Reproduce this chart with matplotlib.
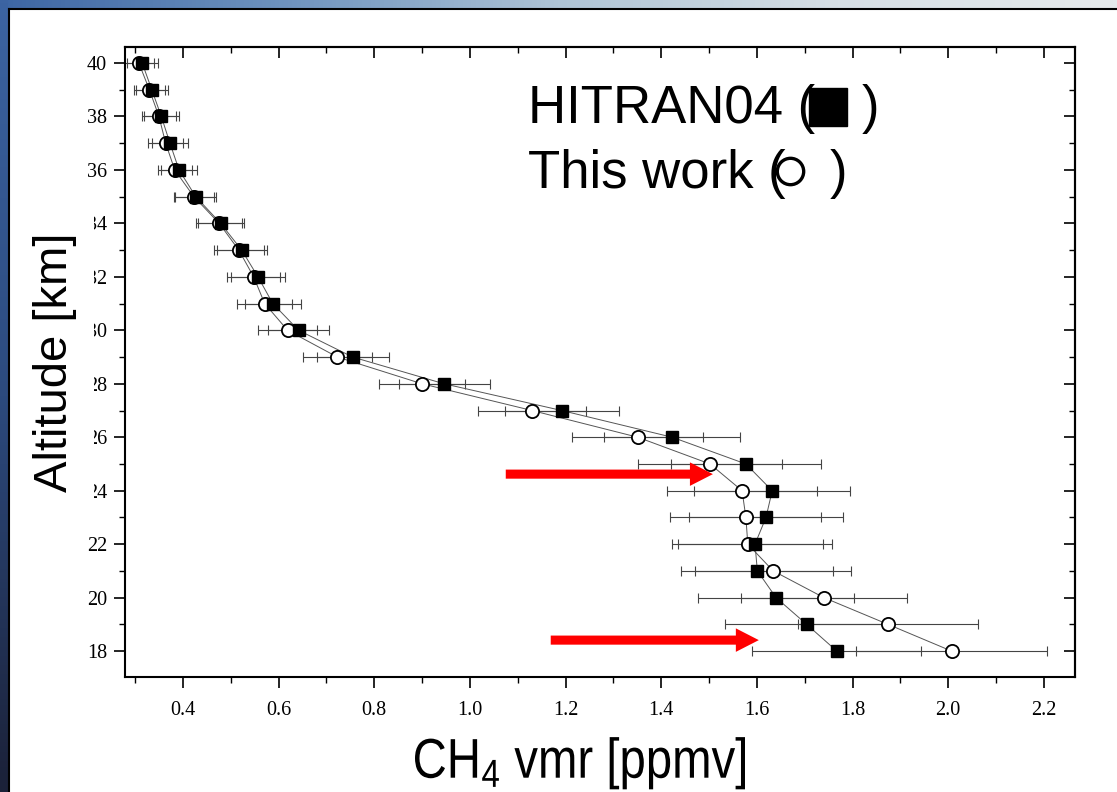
import numpy as np
import matplotlib
matplotlib.use("Agg")
import matplotlib.pyplot as plt
from matplotlib import font_manager
from matplotlib.colors import LinearSegmentedColormap
from matplotlib.lines import Line2D
from matplotlib.patches import FancyArrow, PathPatch
from matplotlib.textpath import TextPath
from matplotlib.transforms import Affine2D
from matplotlib.ticker import MultipleLocator, FormatStrFormatter

# CH4 profile, 40 km down to 18 km
altitude = list(range(40, 17, -1))
hitran_vmr = [0.315, 0.335, 0.355, 0.373, 0.392, 0.427, 0.479, 0.523, 0.557, 0.588,
              0.642, 0.755, 0.946, 1.192, 1.423, 1.577, 1.632, 1.619, 1.596, 1.601,
              1.640, 1.704, 1.767]
hitran_err = [0.032, 0.034, 0.036, 0.037, 0.038, 0.043, 0.048, 0.052, 0.056, 0.059,
              0.064, 0.075, 0.095, 0.119, 0.142, 0.157, 0.163, 0.161, 0.160, 0.159,
              0.163, 0.170, 0.177]
work_vmr = [0.308, 0.330, 0.350, 0.364, 0.383, 0.423, 0.476, 0.517, 0.548, 0.571,
            0.619, 0.723, 0.900, 1.130, 1.351, 1.502, 1.569, 1.577, 1.581, 1.634,
            1.740, 1.874, 2.007]
work_err = [0.031, 0.033, 0.035, 0.036, 0.036, 0.042, 0.048, 0.052, 0.055, 0.057,
            0.062, 0.072, 0.090, 0.113, 0.137, 0.150, 0.157, 0.158, 0.158, 0.163,
            0.174, 0.189, 0.200]

# arrows pointing at the two altitude levels discussed (x from, x to, altitude)
arrows = [(1.075, 1.508, 24.62), (1.169, 1.604, 18.41)]


def pick_font(*names):
    for n in names:
        try:
            font_manager.findfont(font_manager.FontProperties(family=n), fallback_to_default=False)
            return n
        except ValueError:
            pass
    return "DejaVu Sans"


sans = pick_font("Liberation Sans", "Arial")
serif = pick_font("Liberation Serif", "DejaVu Serif")
plt.rcParams["mathtext.fontset"] = "custom"
plt.rcParams["mathtext.rm"] = sans

W, H = 1117, 792
fig = plt.figure(figsize=(W / 100, H / 100), dpi=100, facecolor="white")

# slide frame: blue bands on top and left with a black edge
bg = fig.add_axes([0, 0, 1, 1], zorder=-10)
top_cmap = LinearSegmentedColormap.from_list("top", ["#3d66a4", "#6d92be", "#aec4d6", "#d6dfe5", "#e6eaec"])
left_cmap = LinearSegmentedColormap.from_list("left", ["#3c64a2", "#2c4a7e", "#1b2138"])
bg.imshow(np.linspace(0, 1, 256)[None, :], cmap=top_cmap, extent=(0, W, 8, 0), aspect="auto")
bg.imshow(np.linspace(0, 1, 256)[:, None], cmap=left_cmap, extent=(0, 8, H, 0), aspect="auto")
bg.plot([8.5, 8.5], [H, 8.5], color="black", lw=1.5)
bg.plot([8.5, W], [8.5, 8.5], color="black", lw=1.5)
bg.set_xlim(0, W)
bg.set_ylim(H, 0)
bg.axis("off")

ax = fig.add_axes([125 / W, 1 - 677 / H, 950 / W, 630 / H])
ax.set_xlim(0.279, 2.265)
ax.set_ylim(17.03, 40.6)

ax.errorbar(work_vmr, altitude, xerr=work_err, fmt="none", ecolor="#444444",
            elinewidth=0.8, capsize=3.8, capthick=0.8, zorder=1.5)
ax.errorbar(hitran_vmr, altitude, xerr=hitran_err, fmt="none", ecolor="#444444",
            elinewidth=0.8, capsize=3.8, capthick=0.8, zorder=1.5)
ax.plot(work_vmr, altitude, color="#555555", lw=0.7, zorder=2)
ax.plot(hitran_vmr, altitude, color="#555555", lw=0.7, zorder=2)
ax.plot(work_vmr, altitude, ls="none", marker="o", ms=9.5, mfc="white", mec="black", mew=1.3, zorder=3)
ax.plot(hitran_vmr, altitude, ls="none", marker="s", ms=9, mfc="black", mec="black", zorder=4)

for x0, x1, y in arrows:
    ax.add_patch(FancyArrow(x0, y, x1 - x0, 0, width=0.34, head_width=0.88, head_length=0.048,
                            length_includes_head=True, color="red", lw=0, zorder=5))

for s in ax.spines.values():
    s.set_linewidth(1.5)

ax.xaxis.set_major_locator(MultipleLocator(0.2))
ax.xaxis.set_minor_locator(MultipleLocator(0.1))
ax.xaxis.set_major_formatter(FormatStrFormatter("%.1f"))
ax.yaxis.set_major_locator(MultipleLocator(2))
ax.yaxis.set_minor_locator(MultipleLocator(1))
ax.tick_params(which="major", direction="out", length=8, width=1.2, labelsize=14.5)
ax.tick_params(axis="x", which="major", pad=9)
ax.tick_params(axis="y", which="major", pad=5)
ax.tick_params(which="minor", direction="out", length=4.5, width=1.0)
for lab in ax.get_xticklabels() + ax.get_yticklabels():
    lab.set_fontfamily(serif)

# inward ticks on the top and right edges
top = ax.secondary_xaxis("top")
top.xaxis.set_major_locator(MultipleLocator(0.2))
top.xaxis.set_minor_locator(MultipleLocator(0.1))
top.tick_params(which="major", direction="in", length=8, width=1.2, labeltop=False)
top.tick_params(which="minor", direction="in", length=4.5, width=1.0)
right = ax.secondary_yaxis("right")
right.yaxis.set_major_locator(MultipleLocator(2))
right.yaxis.set_minor_locator(MultipleLocator(1))
right.tick_params(which="major", direction="in", length=8, width=1.2, labelright=False)
right.tick_params(which="minor", direction="in", length=4.5, width=1.0)
for sa in (top, right):
    for s in sa.spines.values():
        s.set_linewidth(1.5)

# x title, drawn as a narrowed outline (330 px wide, centred at x=580, baseline 14 px up)
xt = TextPath((0, 0), r"CH$_{\mathrm{4}}$ vmr [ppmv]", size=56,
              prop=font_manager.FontProperties(family=sans))
ext = xt.get_extents()
sx = 330 / ext.width
xt_tr = Affine2D().translate(-ext.x0 - ext.width / 2, 0).scale(sx, 1).translate(580, 14)
fig.add_artist(PathPatch(xt, facecolor="black", edgecolor="none",
                         transform=xt_tr + Affine2D().scale(1 / W, 1 / H) + fig.transFigure))

fig.text(55 / W, 1 - 362 / H, "Altitude [km]", ha="center", va="center", rotation=90,
         fontsize=34, fontfamily=sans,
         bbox=dict(facecolor="white", edgecolor="none", boxstyle="square,pad=0.35"))

# key
fig.text(528 / W, 1 - 123 / H, "HITRAN04 (", ha="left", va="baseline", fontsize=38, fontfamily=sans)
fig.text(862 / W, 1 - 123 / H, ")", ha="left", va="baseline", fontsize=38, fontfamily=sans)
fig.add_artist(Line2D([828 / W], [1 - 107 / H], transform=fig.transFigure, marker="s",
                      ms=27, mfc="black", mec="black", ls="none"))
fig.text(528 / W, 1 - 188 / H, "This work (", ha="left", va="baseline", fontsize=38, fontfamily=sans)
fig.text(830 / W, 1 - 188 / H, ")", ha="left", va="baseline", fontsize=38, fontfamily=sans)
fig.add_artist(Line2D([790 / W], [1 - 171 / H], transform=fig.transFigure, marker="o",
                      ms=19, mfc="white", mec="black", mew=2.4, ls="none"))

fig.savefig("out.png", dpi=100, facecolor="white")
